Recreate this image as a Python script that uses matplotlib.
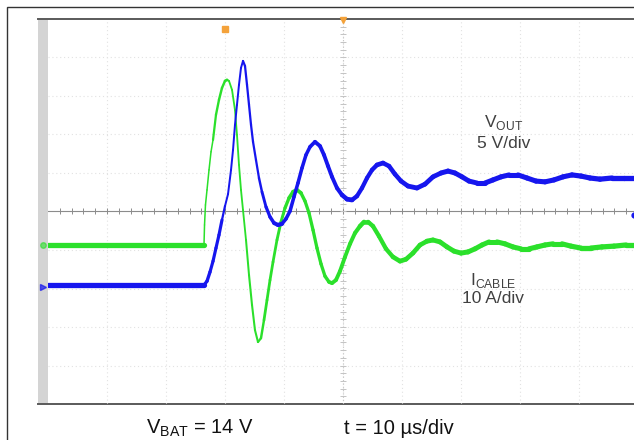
import numpy as np
import matplotlib.pyplot as plt
from matplotlib.collections import LineCollection
from matplotlib.patches import Rectangle
from matplotlib.lines import Line2D

plt.rcParams['font.family'] = ['Liberation Sans', 'DejaVu Sans']
plt.rcParams['mathtext.fontset'] = 'custom'
plt.rcParams['mathtext.rm'] = 'Liberation Sans'

# time in us (10 us/div), amplitude in screen divisions
t_cable = [0.0, 26.44, 26.53, 26.69, 26.95, 27.29, 27.63, 27.97, 28.47, 28.98, 29.49, 30.0,
           30.34, 30.68, 31.19, 31.69, 32.03, 32.37, 32.71, 33.05, 33.56, 34.07, 34.58,
           35.08, 35.59, 36.10, 36.61, 37.12, 37.63, 38.14, 38.81, 39.49, 40.17, 40.85,
           41.53, 42.20, 42.88, 43.56, 44.24, 44.92, 45.59, 46.27, 46.95, 47.63, 48.14,
           48.81, 49.49, 50.34, 51.19, 52.03, 52.88, 53.56, 54.24, 55.08, 56.10, 57.29,
           58.47, 59.66, 60.68, 61.86, 63.05, 64.24, 65.25, 66.44, 67.63, 68.81, 70.0,
           71.19, 72.37, 73.56, 74.75, 76.10, 77.46, 78.81, 80.17, 81.53, 82.88, 84.24,
           85.59, 87.12, 88.64, 90.34, 92.03, 93.90, 95.93, 97.97, 100.0]
i_cable = [-0.87, -0.87, -0.35, 0.17, 0.56, 1.08, 1.55, 1.86, 2.51, 2.90, 3.21, 3.39,
           3.42, 3.39, 3.16, 2.64, 1.99, 1.21, 0.56, 0.04, -0.74, -1.65, -2.43,
           -3.08, -3.39, -3.29, -2.82, -2.30, -1.78, -1.31, -0.74, -0.27, 0.09, 0.35,
           0.51, 0.56, 0.48, 0.27, -0.04, -0.48, -0.95, -1.36, -1.68, -1.83, -1.86,
           -1.78, -1.55, -1.18, -0.84, -0.56, -0.38, -0.27, -0.27, -0.38, -0.64, -0.97,
           -1.18, -1.29, -1.24, -1.08, -0.87, -0.77, -0.74, -0.79, -0.92, -1.03, -1.08,
           -1.05, -0.97, -0.87, -0.79, -0.79, -0.84, -0.92, -0.97, -0.97, -0.92, -0.87,
           -0.84, -0.84, -0.90, -0.95, -0.95, -0.92, -0.90, -0.87, -0.87]

t_out = [0.0, 26.44, 26.95, 27.46, 27.97, 28.47, 28.98, 29.49, 30.0, 30.51, 31.02, 31.36,
         31.69, 32.03, 32.37, 32.71, 33.05, 33.39, 33.73, 34.07, 34.41, 34.75, 35.25,
         35.76, 36.27, 36.95, 37.63, 38.31, 38.98, 39.66, 40.34, 41.02, 41.69, 42.37,
         43.05, 43.73, 44.41, 45.25, 46.10, 46.78, 47.46, 48.14, 48.98, 49.83, 50.68,
         51.53, 52.37, 53.22, 54.07, 54.92, 55.76, 56.78, 57.80, 58.81, 59.83, 61.02,
         62.54, 63.90, 65.25, 66.61, 67.80, 68.98, 70.17, 71.36, 72.71, 74.07, 75.42,
         76.78, 78.14, 79.66, 81.19, 82.71, 84.24, 85.76, 87.29, 88.81, 90.34, 91.86,
         93.56, 95.59, 97.63, 100.0]
v_out = [-1.91, -1.91, -1.81, -1.57, -1.29, -0.95, -0.61, -0.22, 0.14, 0.45, 1.08, 1.60,
         2.25, 2.77, 3.29, 3.73, 3.91, 3.78, 3.29, 2.77, 2.25, 1.81, 1.34,
         0.87, 0.51, 0.12, -0.14, -0.30, -0.35, -0.32, -0.19, 0.01, 0.38, 0.74,
         1.13, 1.47, 1.68, 1.81, 1.70, 1.47, 1.18, 0.90, 0.61, 0.43, 0.32,
         0.30, 0.40, 0.61, 0.87, 1.08, 1.21, 1.26, 1.18, 0.97, 0.79, 0.66,
         0.61, 0.71, 0.90, 1.00, 1.05, 1.00, 0.90, 0.79, 0.74, 0.74, 0.82,
         0.90, 0.95, 0.95, 0.87, 0.79, 0.77, 0.82, 0.90, 0.95, 0.92, 0.87,
         0.84, 0.87, 0.87, 0.87]

trigger_t = 30.0
trigger_level = -0.09
center_t = 50.0

GREEN = '#2be02b'
BLUE = '#1616ee'

fig = plt.figure(figsize=(6.34, 4.40), dpi=100)
W, H = 634, 440


def fx(px):
    return px / W


def fy(py):
    return 1 - py / H


# outer frame (cut by the image on the right and bottom)
fig.patches.append(Rectangle((fx(7), -0.2), 1.2, fy(7) + 0.2, transform=fig.transFigure,
                             fill=False, edgecolor='#333333', lw=1.0, zorder=-2))
# scope label strip on the left
fig.patches.append(Rectangle((fx(38), fy(404)), fx(10), (404 - 19) / H, transform=fig.transFigure,
                             facecolor='#d4d4d4', edgecolor='none', zorder=-2))
for py in (19.5, 403.5):
    fig.lines.append(Line2D([fx(38), 1.0], [fy(py), fy(py)], transform=fig.transFigure,
                            color='#5a5a5a', lw=1.4, zorder=-1))

ax = fig.add_axes([fx(48), fy(404), 590 / W, 385 / H])
ax.set_xlim(0, 100)
ax.set_ylim(-5, 5)
ax.axis('off')

# graticule
for i in range(1, 10):
    ax.axvline(i * 10, color='#e2e2e2', lw=0.8, ls=(0, (1, 2.5)), zorder=1)
for j in range(-4, 5):
    if j != 0:
        ax.axhline(j, color='#e2e2e2', lw=0.8, ls=(0, (1, 2.5)), zorder=1)
ax.axhline(0, color='#8c8c8c', lw=0.8, zorder=1)
ax.axvline(center_t, color='#c4c4c4', lw=0.8, ls=(0, (1, 2)), zorder=1)
ticks_t = np.arange(2, 100, 2)
ax.plot(ticks_t, np.zeros_like(ticks_t), ls='none', marker='|', ms=4, mew=0.7,
        color='#8c8c8c', zorder=1)
ticks_v = np.arange(-4.8, 5, 0.2)
ax.plot(np.full_like(ticks_v, center_t), ticks_v, ls='none', marker='_', ms=4, mew=0.7,
        color='#c4c4c4', zorder=1)


def trace(t, v, color):
    # fast edges look thinner on the scope screen, so width follows local slope
    t = np.asarray(t, float)
    v = np.asarray(v, float)
    pts = np.column_stack([t, v])
    disp = ax.transData.transform(pts)
    dx = np.abs(np.diff(disp[:, 0]))
    dy = np.abs(np.diff(disp[:, 1]))
    slope = dy / np.maximum(dx, 1e-6)
    mid = (disp[:-1, 0] + disp[1:, 0]) / 2
    # steepest slope within ~9 px on either side
    near = np.abs(mid[:, None] - mid[None, :]) < 9
    slope_max = np.where(near, slope[None, :], 0).max(axis=1)
    lw = 1.1 + 2.7 * np.exp(-slope_max / 6.0)
    segs = np.stack([pts[:-1], pts[1:]], axis=1)
    lc = LineCollection(segs, colors=color, linewidths=lw, capstyle='round',
                        joinstyle='round', zorder=3)
    ax.add_collection(lc)


trace(t_cable, i_cable, GREEN)
trace(t_out, v_out, BLUE)

# channel / trigger markers
ax.plot([-0.85], [i_cable[0]], marker='o', ms=4, color=GREEN, alpha=0.6, clip_on=False, zorder=4)
ax.plot([-0.85], [v_out[0] - 0.05], marker='>', ms=5, color=BLUE, alpha=0.7, clip_on=False, zorder=4)
ax.plot([trigger_t], [4.74], marker='s', ms=4.5, color='#f4a23a', zorder=4)
ax.plot([center_t], [4.98], marker='v', ms=5, color='#f4a23a', clip_on=False, zorder=4)
ax.plot([99.4], [trigger_level], marker='o', ms=3.5, color=BLUE, clip_on=False, zorder=4)

# annotations
ax.text(77.2, 2.30, r'V$_{\mathregular{OUT}}$', ha='center', va='center',
        fontsize=12.5, color='#404040')
ax.text(77.2, 1.77, '5 V/div', ha='center', va='center', fontsize=12.5, color='#404040')
ax.text(75.5, -1.80, r'I$_{\mathregular{CABLE}}$', ha='center', va='center',
        fontsize=12.5, color='#404040')
ax.text(75.5, -2.25, '10 A/div', ha='center', va='center', fontsize=12.5, color='#404040')

fig.text(fx(200), fy(428), r'V$_{\mathregular{BAT}}$ = 14 V', ha='center', va='center',
         fontsize=14.5, color='#111111')
fig.text(fx(399), fy(428), 't = 10 µs/div', ha='center', va='center',
         fontsize=14.5, color='#111111')

fig.savefig('out.png', dpi=100)
